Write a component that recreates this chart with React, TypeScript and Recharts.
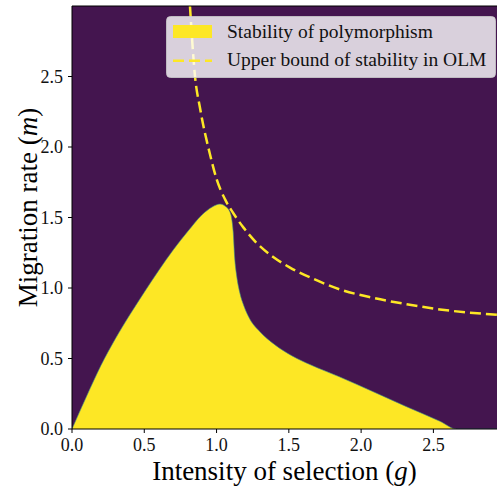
import React from "react";
import {
  ComposedChart,
  Area,
  Line,
  XAxis,
  YAxis,
  CartesianGrid,
  ReferenceLine,
  Legend,
  Label,
} from "recharts";

// region where the polymorphism is stable: upper edge m(g)
const stabilityG = [0, 0.1, 0.2, 0.3, 0.4, 0.5, 0.6, 0.7, 0.8, 0.9, 0.97, 1.024, 1.06, 1.09, 1.105, 1.115, 1.125, 1.14, 1.16, 1.19, 1.23, 1.3, 1.4, 1.52, 1.65, 1.85, 2.08, 2.31, 2.545, 2.66, 2.94];
const stabilityM = [0, 0.23, 0.45, 0.64, 0.81, 0.97, 1.125, 1.27, 1.4, 1.52, 1.575, 1.595, 1.58, 1.545, 1.49, 1.4, 1.22, 1.08, 0.97, 0.87, 0.78, 0.69, 0.6, 0.52, 0.455, 0.37, 0.266, 0.16, 0.055, 0, 0];

// upper bound of stability in OLM (dashed)
const boundG = [0.816, 0.851, 0.885, 0.954, 1.001, 1.058, 1.116, 1.185, 1.277, 1.392, 1.508, 1.669, 1.853, 2.084, 2.315, 2.545, 2.94];
const boundM = [3.0, 2.5, 2.28, 1.95, 1.77, 1.63, 1.53, 1.43, 1.32, 1.22, 1.145, 1.065, 0.99, 0.93, 0.885, 0.848, 0.81];

const xTicks = [0, 0.5, 1, 1.5, 2, 2.5];
const yTicks = [0, 0.5, 1, 1.5, 2, 2.5];
const legendLabels = ["Stability of polymorphism", "Upper bound of stability in OLM"];
const xLabel = "Intensity of selection";
const yLabel = "Migration rate";

const PURPLE = "#44154f";
const YELLOW = "#fde725";
const FONT = '"Liberation Serif", "DejaVu Serif", serif';

// merge both series on one g column
const gValues = Array.from(new Set([...stabilityG, ...boundG])).sort((a, b) => a - b);
const data = gValues.map((g) => {
  const i = stabilityG.indexOf(g);
  const j = boundG.indexOf(g);
  return {
    g,
    stab: i >= 0 ? stabilityM[i] : null,
    bound: j >= 0 ? boundM[j] : null,
  };
});

function LegendBox() {
  return (
    <svg width={330} height={62} style={{ display: "block" }}>
      <rect x={0.5} y={0.5} width={329} height={61} rx={4} fill="rgba(255,255,255,0.8)" stroke="rgba(204,204,204,0.8)" />
      <rect x={7} y={9} width={39} height={13} fill={YELLOW} />
      <text x={61} y={22} fontSize={19.5} fontFamily={FONT} fill="#111">
        {legendLabels[0]}
      </text>
      <line x1={7} x2={46} y1={44.7} y2={44.7} stroke={YELLOW} strokeWidth={2.5} strokeDasharray="11 5" />
      <text x={61} y={50} fontSize={19.5} fontFamily={FONT} fill="#111">
        {legendLabels[1]}
      </text>
    </svg>
  );
}

function XTitle(props: any) {
  const vb = props.viewBox || {};
  return (
    <text x={vb.x + vb.width / 2} y={vb.y + 51} textAnchor="middle" fontSize={27} fontFamily={FONT} fill="#000">
      {xLabel} (<tspan fontStyle="italic">g</tspan>)
    </text>
  );
}

function YTitle(props: any) {
  const vb = props.viewBox || {};
  const cx = 37;
  const cy = vb.y + vb.height / 2 - 10;
  return (
    <text x={cx} y={cy} textAnchor="middle" fontSize={27} fontFamily={FONT} fill="#000" transform={`rotate(-90 ${cx} ${cy})`}>
      {yLabel} (<tspan fontStyle="italic">m</tspan>)
    </text>
  );
}

export default function App() {
  const tickStyle = { fill: "#111", fontSize: 18, fontFamily: FONT };
  return (
    <div style={{ position: "absolute", left: 0, top: 0 }}>
      <ComposedChart width={497} height={492} data={data} margin={{ top: 6, right: 0, left: 0, bottom: 0 }}>
        <CartesianGrid horizontal={false} vertical={false} fill={PURPLE} fillOpacity={1} />
        <XAxis
          dataKey="g"
          type="number"
          domain={[0, 2.94]}
          ticks={xTicks}
          interval={0}
          allowDataOverflow
          height={63}
          tickSize={4}
          tickMargin={5}
          tick={tickStyle}
          tickFormatter={(v: number) => v.toFixed(1)}
          axisLine={{ stroke: "#000" }}
          tickLine={{ stroke: "#000" }}
        >
          <Label content={<XTitle />} />
        </XAxis>
        <YAxis
          type="number"
          domain={[0, 3]}
          ticks={yTicks}
          interval={0}
          allowDataOverflow
          width={72}
          tickSize={4}
          tickMargin={5}
          tick={tickStyle}
          tickFormatter={(v: number) => v.toFixed(1)}
          axisLine={{ stroke: "#000" }}
          tickLine={{ stroke: "#000" }}
        >
          <Label content={<YTitle />} />
        </YAxis>
        <Area
          dataKey="stab"
          type="monotone"
          connectNulls
          fill={YELLOW}
          fillOpacity={1}
          stroke="#3d8f8a"
          strokeWidth={0.6}
          isAnimationActive={false}
        />
        <Line
          dataKey="bound"
          type="monotone"
          connectNulls
          stroke={YELLOW}
          strokeWidth={2.5}
          strokeDasharray="11 5"
          dot={false}
          isAnimationActive={false}
        />
        <ReferenceLine y={3} stroke="#000" strokeWidth={1} />
        <Legend
          layout="horizontal"
          verticalAlign="middle"
          align="center"
          wrapperStyle={{ position: "absolute", left: 166, top: 16, width: 330, height: 62 }}
          content={() => <LegendBox />}
        />
      </ComposedChart>
    </div>
  );
}
